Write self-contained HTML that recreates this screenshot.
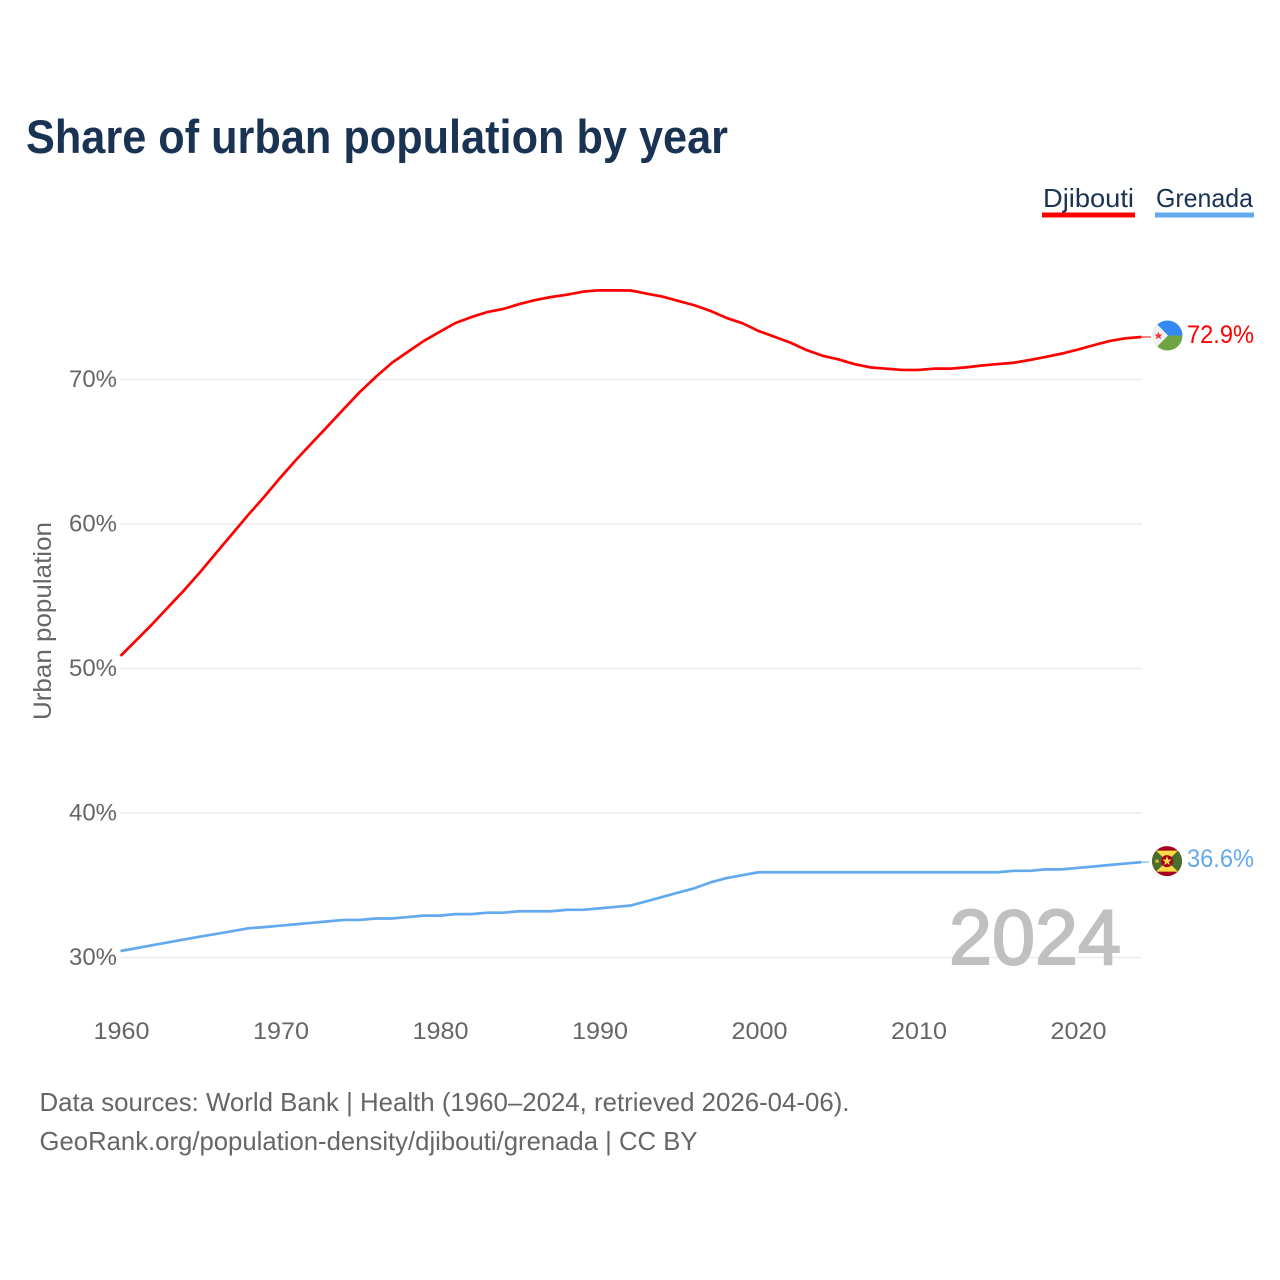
<!DOCTYPE html>
<html lang="en">
<head>
<meta charset="utf-8">
<title>Share of urban population by year</title>
<style>
html,body{margin:0;padding:0;background:#fff;}
svg{display:block;}
text{font-family:"Liberation Sans",sans-serif;}
</style>
</head>
<body>
<svg id="chart" width="1280" height="1280" viewBox="0 0 1280 1280" xmlns="http://www.w3.org/2000/svg">
  <rect x="0" y="0" width="1280" height="1280" fill="#ffffff"/>
  <text x="26" y="153" font-size="47" font-weight="bold" fill="#1a3353" textLength="702" lengthAdjust="spacingAndGlyphs">Share of urban population by year</text>

  <g>
    <text x="1043" y="207" font-size="26" fill="#1a3353" textLength="91" lengthAdjust="spacingAndGlyphs">Djibouti</text>
    <rect x="1042" y="212.5" width="93" height="5" fill="#ff0000"/>
  </g>
  <g>
    <text x="1156" y="207" font-size="26" fill="#1a3353" textLength="97" lengthAdjust="spacingAndGlyphs">Grenada</text>
    <rect x="1155" y="212.5" width="99" height="5" fill="#63a9ed"/>
  </g>

  <text transform="translate(51,720) rotate(-90)" x="0" y="0" font-size="25" fill="#666666" textLength="198" lengthAdjust="spacingAndGlyphs">Urban population</text>

  <g id="grid"></g>
  <g id="yticks"></g>
  <g id="xticks"></g>

  <text x="949" y="964" font-size="78" font-weight="normal" fill="#c0c0c0" stroke="#c0c0c0" stroke-width="2" textLength="172" lengthAdjust="spacingAndGlyphs">2024</text>

  <g id="series"></g>

  <g id="flag-djibouti">
    <clipPath id="clip-dj"><circle cx="0" cy="0" r="15"/></clipPath>
    <g clip-path="url(#clip-dj)">
      <rect x="-16" y="-16" width="32" height="16" fill="#338af3"/>
      <rect x="-16" y="0" width="32" height="16" fill="#6da544"/>
      <polygon points="-15,-16 0.5,0 -15,16 -16,16 -16,-16" fill="#f0f0f0"/>
      <polygon points="-9,-3.8 -7.9,-1 -5,-1 -7.3,0.8 -6.4,3.6 -9,2 -11.6,3.6 -10.7,0.8 -13,-1 -10.1,-1" fill="#f0303f"/>
    </g>
  </g>

  <g id="flag-grenada">
    <clipPath id="clip-gr"><circle cx="0" cy="0" r="15"/></clipPath>
    <g clip-path="url(#clip-gr)">
      <rect x="-16" y="-16" width="32" height="32" fill="#a2001d"/>
      <rect x="-16" y="-10.5" width="32" height="21" fill="#496e2d"/>
      <polygon points="-11,-10.5 11,-10.5 0,0" fill="#ffda44"/>
      <polygon points="-11,10.5 11,10.5 0,0" fill="#ffda44"/>
      <circle cx="0" cy="0" r="6" fill="#a2001d"/>
      <polygon points="0,-5 1.2,-1.6 4.8,-1.5 1.9,0.6 3,4 0,2 -3,4 -1.9,0.6 -4.8,-1.5 -1.2,-1.6" fill="#ffda44"/>
      <circle cx="-10" cy="0" r="1.8" fill="#d9b53a"/>
    </g>
  </g>

  <g id="endlabels"></g>

  <text x="39.5" y="1111" font-size="26" fill="#666666" textLength="810" lengthAdjust="spacingAndGlyphs">Data sources: World Bank | Health (1960–2024, retrieved 2026-04-06).</text>
  <text x="39.5" y="1150" font-size="26" fill="#666666" textLength="658" lengthAdjust="spacingAndGlyphs">GeoRank.org/population-density/djibouti/grenada | CC BY</text>
</svg>

<script>
const startYear = 1960;
const djibouti = [50.87,51.97,53.08,54.26,55.43,56.68,58.0,59.31,60.62,61.87,
  63.18,64.43,65.61,66.78,67.96,69.13,70.17,71.14,71.9,72.66,
  73.29,73.91,74.32,74.67,74.88,75.22,75.5,75.71,75.87,76.08,
  76.17,76.17,76.16,75.94,75.73,75.43,75.13,74.74,74.26,73.89,
  73.36,72.96,72.55,72.04,71.65,71.4,71.07,70.84,70.75,70.66,
  70.66,70.75,70.75,70.84,70.97,71.07,71.16,71.35,71.56,71.79,
  72.06,72.37,72.66,72.85,72.94];
const grenada = [30.45,30.65,30.85,31.05,31.25,31.45,31.63,31.82,32.02,32.1,
  32.2,32.3,32.4,32.5,32.6,32.6,32.7,32.7,32.8,32.9,
  32.9,33.0,33.0,33.1,33.1,33.2,33.2,33.2,33.3,33.3,
  33.4,33.5,33.6,33.9,34.2,34.5,34.8,35.2,35.5,35.7,
  35.9,35.9,35.9,35.9,35.9,35.9,35.9,35.9,35.9,35.9,
  35.9,35.9,35.9,35.9,35.9,35.9,36.0,36.0,36.1,36.1,
  36.2,36.3,36.4,36.5,36.6];
const yTickValues = [30,40,50,60,70];
const xTickYears = [1960,1970,1980,1990,2000,2010,2020];

const SVG_NS = 'http://www.w3.org/2000/svg';
function xScale(year){ return 120.5 + (year - 1960) * 15.95; }
function yScale(v){ return 957.5 - (v - 30) * 14.45; }
function make(tag, attrs, parent, txt){
  const el = document.createElementNS(SVG_NS, tag);
  for (const k in attrs) el.setAttribute(k, attrs[k]);
  if (txt !== undefined) el.textContent = txt;
  parent.appendChild(el);
  return el;
}

const gridG = document.getElementById('grid');
const yG = document.getElementById('yticks');
yTickValues.forEach(function(v){
  const line = make('line', {x1:120.5, x2:1141.5, y1:yScale(v), y2:yScale(v), stroke:'#ececec', 'stroke-width':1.5}, gridG);
  
  
  const t = make('text', {x:117, y:yScale(v) + 7.5, 'text-anchor':'end', 'font-size':24.5, fill:'#666666', textLength:48, lengthAdjust:'spacingAndGlyphs'}, yG, v + '%');
  
  
});

const xG = document.getElementById('xticks');
xTickYears.forEach(function(year){
  const t = make('text', {x:xScale(year) + 1, y:1039, 'text-anchor':'middle', 'font-size':24.5, fill:'#666666', textLength:56, lengthAdjust:'spacingAndGlyphs'}, xG, String(year));
  
  
});

function pathFor(values){
  return values.map(function(v, i){
    return (i ? 'L' : 'M') + xScale(startYear + i).toFixed(2) + ' ' + yScale(v).toFixed(2);
  }).join(' ');
}

const seriesG = document.getElementById('series');
const labelG = document.getElementById('endlabels');

const redPath = make('path', {d:pathFor(djibouti), fill:'none', stroke:'#ff0000', 'stroke-width':2.7, 'stroke-linejoin':'round'}, seriesG);


const bluePath = make('path', {d:pathFor(grenada), fill:'none', stroke:'#63a9ed', 'stroke-width':2.7, 'stroke-linejoin':'round'}, seriesG);



const lastX = xScale(startYear + djibouti.length - 1);
const lastRed = djibouti[djibouti.length - 1];
const lastBlue = grenada[grenada.length - 1];

const redConn = make('line', {x1:lastX, x2:1151, y1:yScale(lastRed), y2:yScale(lastRed), stroke:'#ff0000', 'stroke-width':1}, seriesG);


const blueConn = make('line', {x1:lastX, x2:1149, y1:yScale(lastBlue), y2:yScale(lastBlue), stroke:'#63a9ed', 'stroke-width':1}, seriesG);



document.getElementById('flag-djibouti').setAttribute('transform', 'translate(1167.5,' + (yScale(lastRed) - 1.5) + ')');
document.getElementById('flag-grenada').setAttribute('transform', 'translate(1167,' + (yScale(lastBlue) - 1) + ')');

const redLabel = make('text', {x:1187, y:yScale(lastRed) + 6, 'font-size':25, fill:'#ff0000', textLength:67, lengthAdjust:'spacingAndGlyphs'}, labelG, lastRed.toFixed(1) + '%');


const blueLabel = make('text', {x:1187, y:yScale(lastBlue) + 5, 'font-size':25, fill:'#63a9ed', textLength:67, lengthAdjust:'spacingAndGlyphs'}, labelG, lastBlue.toFixed(1) + '%');


</script>
</body>
</html>
